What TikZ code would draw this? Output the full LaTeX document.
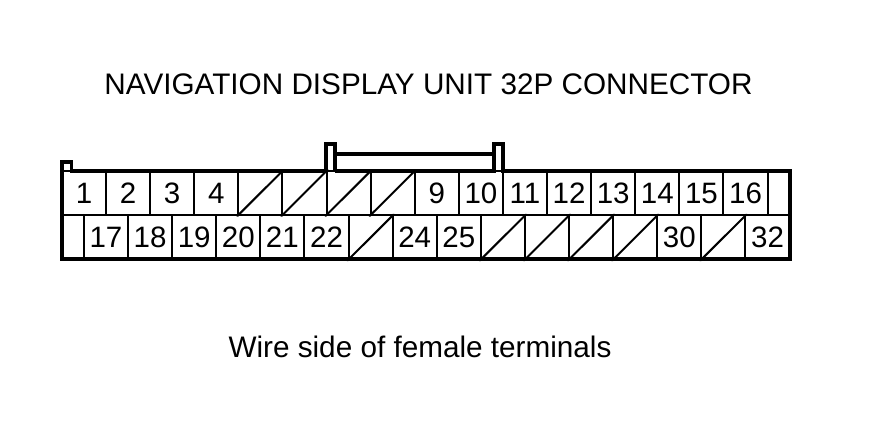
\documentclass[tikz,border=0pt]{standalone}
\usepackage{fontspec}
\setmainfont{Liberation Sans}
\tikzset{
	pin/.style={draw,line width=2pt,minimum width=44.1pt,minimum height=44pt,inner sep=0pt,font=\fontsize{29.5}{30}\selectfont},
	slash/.style={line width=2pt,line cap=round},
	shell/.style={line width=3.2pt,line join=miter},
	heading/.style={inner sep=0pt,font=\fontsize{29.7}{32}\selectfont}
}
\begin{document}
\begin{tikzpicture}[x=1pt,y=1pt]
	\useasboundingbox (0,0) rectangle (880,420);
	\node[heading] (title) at (428.5,336) {NAVIGATION DISPLAY UNIT 32P CONNECTOR};
	\node[heading] (caption) at (420,73) {Wire side of female terminals};
	
	% upper row
	\foreach \n in {1,2,3,4,9,10,11,12,13,14,15,16}
	\node[pin] (p\n) at ({84+44.1*(\n-1)},227) {\n};
	\foreach \n in {5,6,7,8}{
		\node[pin] (p\n) at ({84+44.1*(\n-1)},227) {};
		\draw[slash] (p\n.south west)--(p\n.north east);
	}
	
	% lower row
	\foreach \n in {17,18,19,20,21,22,24,25,30,32}
	\node[pin] (p\n) at ({106+44.1*(\n-17)},182.5) {\n};
	\foreach \n in {23,26,27,28,29,31}{
		\node[pin] (p\n) at ({106+44.1*(\n-17)},182.5) {};
		\draw[slash] (p\n.south west)--(p\n.north east);
	}
	
	% shell with tab and latch posts
	\draw[shell] (62,205)--(62,258)--(71.5,258)--(71.5,249)--(326,249)--(326,276)--(335,276)--(335,249);
	\draw[shell] (335,249)--(494,249)--(494,276)--(503,276)--(503,249)--(790,249)--(790,161)--(62,161)--(62,205);
	\draw[shell] (335,266)--(494,266);
	\draw[slash] (84,205)--(84,161);
	\draw[slash] (768,205)--(768,249);
	\draw[slash] (62,205)--(84,205);
	\draw[slash] (768,205)--(790,205);
\end{tikzpicture}
\end{document}
